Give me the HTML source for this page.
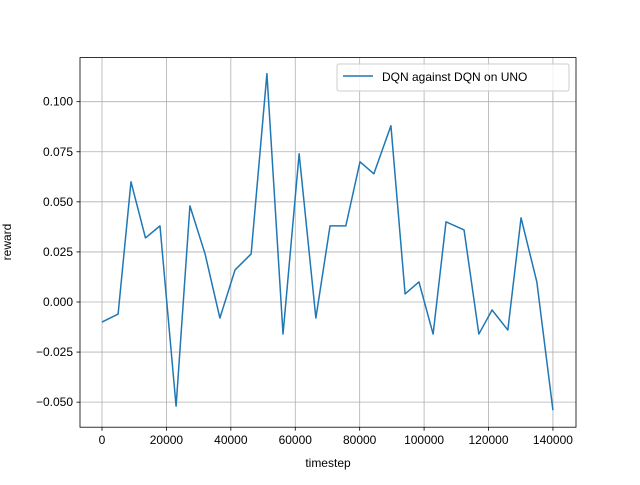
<!DOCTYPE html>
<html><head><meta charset="utf-8"><style>
body{margin:0;background:#fff}
svg text{font-family:"Liberation Sans","DejaVu Sans",sans-serif;font-size:12px;fill:#000}
</style></head><body>
<svg id="chart" width="640" height="480">
<rect width="640" height="480" fill="#fff"/>
<g id="grid"></g>
<g id="series"></g>
<rect x="80" y="57.6" width="496" height="369.6" fill="none" stroke="#000" stroke-width="0.8"/>
<g id="axes"></g>
<text x="328" y="467" text-anchor="middle">timestep</text>
<text transform="translate(11,242) rotate(-90)" text-anchor="middle">reward</text>
<g>
<rect x="337" y="64" width="232" height="27" fill="#fff" fill-opacity="0.8" stroke="#ccc" rx="2"/>
<line x1="343" y1="76" x2="373" y2="76" stroke="#1f77b4" stroke-width="1.5"/>
<text x="382" y="81">DQN against DQN on UNO</text>
</g>
</svg>
<script>
const timesteps=[0,5000,9000,13500,18000,23000,27300,32000,36600,41300,46300,51200,56200,61200,66400,70800,75700,80100,84400,89700,94100,98400,102800,106800,112400,117000,121100,126000,130100,135000,140000];
const rewards=[-0.010,-0.006,0.060,0.032,0.038,-0.052,0.048,0.024,-0.008,0.016,0.024,0.114,-0.016,0.074,-0.008,0.038,0.038,0.070,0.064,0.088,0.004,0.010,-0.016,0.040,0.036,-0.016,-0.004,-0.014,0.042,0.010,-0.054];
const xTicks=[0,20000,40000,60000,80000,100000,120000,140000];
const yTicks=[-0.05,-0.025,0,0.025,0.05,0.075,0.1];
const yTickLabels=["−0.050","−0.025","0.000","0.025","0.050","0.075","0.100"];
const xMin=-6830,xMax=147160,yMin=-0.0625,yMax=0.122;
const L=80,R=576,T=57.6,B=427.2;
const sx=v=>L+(v-xMin)/(xMax-xMin)*(R-L);
const sy=v=>B-(v-yMin)/(yMax-yMin)*(B-T);
const NS="http://www.w3.org/2000/svg";
const grid=document.getElementById('grid'),axes=document.getElementById('axes'),series=document.getElementById('series');
function mk(tag,attrs,parent){const e=document.createElementNS(NS,tag);for(const k in attrs)e.setAttribute(k,attrs[k]);parent.appendChild(e);return e;}
xTicks.forEach(v=>{const x=sx(v);
const g=mk('line',{x1:x,x2:x,y1:T,y2:B,stroke:'#b0b0b0','stroke-width':0.8},grid);


mk('line',{x1:x,x2:x,y1:B,y2:B+3.5,stroke:'#000','stroke-width':0.8},axes);
const t=mk('text',{x:x,y:B+17,'text-anchor':'middle'},axes);t.textContent=v;

});
yTicks.forEach((v,i)=>{const y=sy(v);
const g=mk('line',{x1:L,x2:R,y1:y,y2:y,stroke:'#b0b0b0','stroke-width':0.8},grid);


mk('line',{x1:L-3.5,x2:L,y1:y,y2:y,stroke:'#000','stroke-width':0.8},axes);
const t=mk('text',{x:L-7,y:y+4,'text-anchor':'end'},axes);t.textContent=yTickLabels[i];

});
const p=mk('polyline',{points:timesteps.map((t,i)=>sx(t)+','+sy(rewards[i])).join(' '),fill:'none',stroke:'#1f77b4','stroke-width':1.5,'stroke-linejoin':'round'},series);


</script>
</body></html>
